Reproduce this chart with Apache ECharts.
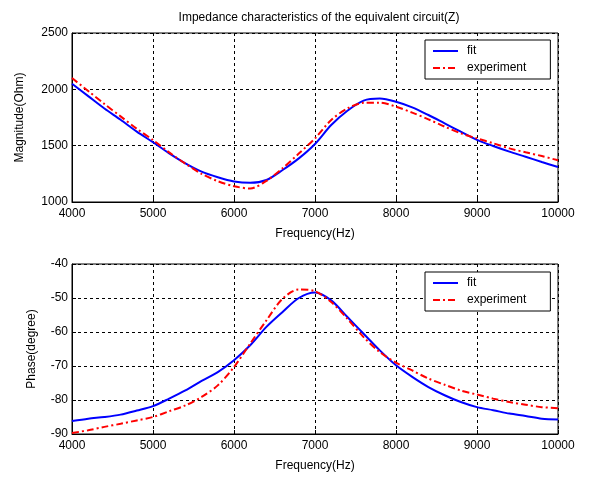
<!DOCTYPE html>
<html>
<head>
<meta charset="utf-8">
<script src="https://cdn.jsdelivr.net/npm/echarts@6/dist/echarts.min.js"></script>
<style>
  html, body { margin: 0; padding: 0; background: #fff; }
  #main { width: 591px; height: 478px; }
</style>
</head>
<body>
<div id="main"></div>
<script>
// frequency points (Hz)
var freq = [4000, 4200, 4400, 4600, 4800, 5000, 5200, 5400, 5600, 5800, 6000,
  6200, 6400, 6600, 6800, 7000, 7200, 7400, 7600, 7800, 8000,
  8200, 8400, 8600, 8800, 9000, 9200, 9400, 9600, 9800, 10000];

// magnitude (Ohm)
var magFit = [2050, 1940, 1830, 1730, 1625, 1530, 1432, 1343, 1269, 1219, 1182,
  1170, 1195, 1284, 1387, 1515, 1683, 1810, 1900, 1918, 1890,
  1840, 1772, 1698, 1624, 1552, 1497, 1447, 1402, 1355, 1310];
var magExp = [2100, 1985, 1870, 1760, 1650, 1550, 1440, 1340, 1250, 1185, 1140,
  1120, 1188, 1300, 1430, 1565, 1728, 1831, 1880, 1882, 1846,
  1793, 1734, 1669, 1609, 1565, 1521, 1476, 1441, 1408, 1370];

// phase (degree)
var phaseFit = [-86.2, -85.5, -85, -84.3, -83.1, -81.8, -79.6, -77.2, -74.4, -71.8, -68.3,
  -63.9, -58.5, -54.1, -50, -48.4, -50.7, -55.6, -60.5, -65.4, -69.8,
  -73.2, -76.2, -78.6, -80.6, -82.1, -83, -84, -84.7, -85.5, -85.7];
var phaseExp = [-89.7, -88.9, -87.9, -87, -86, -85, -83.3, -81.6, -79.1, -75.7, -70.3,
  -63.4, -56.6, -50.2, -47.5, -48, -51.2, -56.1, -61.5, -65.9, -69,
  -71.3, -73.7, -75.5, -77.2, -78.4, -79.6, -80.6, -81.4, -82.1, -82.4];

var seriesNames = ["fit", "experiment"];
var xTicks = { min: 4000, max: 10000, interval: 1000 };

function pairs(ys) {
  return freq.map(function (f, i) { return [f, ys[i]]; });
}

var font = "Liberation Sans";
var blackText = { color: "#000", fontFamily: font, fontSize: 12 };
var dashed = { show: true, lineStyle: { color: "#000", type: [3, 3], width: 1 } };
var plain = function (v) { return String(v); };

function xAxis(idx) {
  return {
    type: "value", gridIndex: idx,
    min: xTicks.min, max: xTicks.max, interval: xTicks.interval,
    name: "Frequency(Hz)", nameLocation: "middle", nameGap: 26,
    nameTextStyle: blackText,
    axisLine: { lineStyle: { color: "#000" } },
    axisTick: { inside: true, length: 4, lineStyle: { color: "#000" } },
    axisLabel: Object.assign({ margin: 6, formatter: plain }, blackText),
    splitLine: dashed
  };
}

function yAxis(idx, min, max, interval, name, gap) {
  return {
    type: "value", gridIndex: idx, min: min, max: max, interval: interval,
    name: name, nameLocation: "middle", nameGap: gap, nameRotate: 90,
    nameTextStyle: blackText,
    axisLine: { lineStyle: { color: "#000" } },
    axisTick: { inside: true, length: 4, lineStyle: { color: "#000" } },
    axisLabel: Object.assign({ margin: 4, formatter: plain }, blackText),
    splitLine: dashed
  };
}

function legend(top) {
  return {
    data: seriesNames, orient: "vertical",
    left: 425, top: top,
    backgroundColor: "#fff", borderColor: "#000", borderWidth: 1, borderRadius: 0,
    padding: [5, 24, 5, 7], itemWidth: 25, itemHeight: 14, itemGap: 5,
    itemStyle: { opacity: 0 },
    textStyle: Object.assign({ padding: [0, 0, 0, 4] }, blackText)
  };
}

function line(name, xi, data, dash) {
  return {
    name: name, type: "line", xAxisIndex: xi, yAxisIndex: xi,
    data: pairs(data), symbol: "none", smooth: 0.3, animation: false,
    lineStyle: dash
      ? { color: "#ff0000", width: 2, type: [7, 3, 2, 3] }
      : { color: "#0000ff", width: 2 },
    itemStyle: { color: dash ? "#ff0000" : "#0000ff" }
  };
}

var chart = echarts.init(document.getElementById("main"));
chart.setOption({
  backgroundColor: "#fff",
  animation: false,
  title: {
    text: "Impedance characteristics of the equivalent circuit(Z)",
    left: 314, top: 7, textAlign: "center",
    textStyle: { color: "#000", fontFamily: font, fontSize: 12, fontWeight: "normal" }
  },
  grid: [
    { left: 72, top: 33, width: 486, height: 169, show: true, borderColor: "#000", borderWidth: 1 },
    { left: 72, top: 264, width: 486, height: 170, show: true, borderColor: "#000", borderWidth: 1 }
  ],
  xAxis: [xAxis(0), xAxis(1)],
  yAxis: [
    yAxis(0, 1000, 2500, 500, "Magnitude(Ohm)", 46),
    yAxis(1, -90, -40, 10, "Phase(degree)", 34)
  ],
  legend: [legend(40), legend(272)],
  series: [
    line("fit", 0, magFit, false),
    line("experiment", 0, magExp, true),
    line("fit", 1, phaseFit, false),
    line("experiment", 1, phaseExp, true)
  ]
});
</script>
</body>
</html>
